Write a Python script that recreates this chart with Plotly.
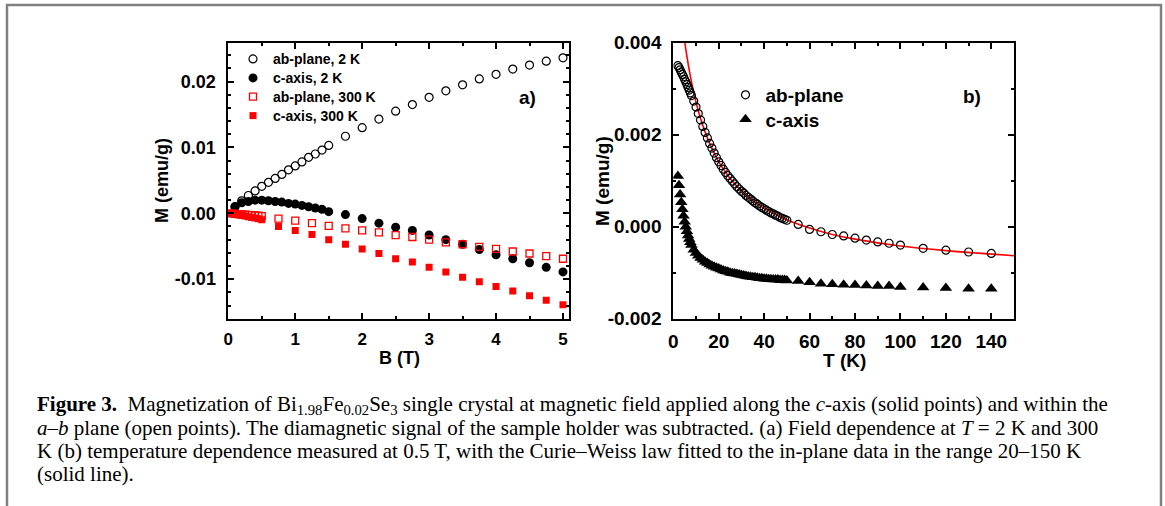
import plotly.graph_objects as go

# ---------------- Panel a) data: M vs B ----------------
B_2K = [0.1, 0.2, 0.3, 0.4, 0.5, 0.6, 0.7, 0.8, 0.9, 1.0, 1.1, 1.2, 1.3, 1.4, 1.5,
        1.75, 2.0, 2.25, 2.5, 2.75, 3.0, 3.25, 3.5, 3.75, 4.0, 4.25, 4.5, 4.75, 5.0]
M_ab_2K = [0.0010, 0.0019, 0.0027, 0.0034, 0.0041, 0.0047, 0.0053, 0.0059, 0.0066, 0.0072,
           0.0078, 0.0085, 0.0090, 0.0096, 0.0103,
           0.0117, 0.0130, 0.0143, 0.0155, 0.0165, 0.0176, 0.0186, 0.0195, 0.0204, 0.0211,
           0.0219, 0.0225, 0.0231, 0.0236]
M_c_2K = [0.0010, 0.0016, 0.0018, 0.0020, 0.0020, 0.0019, 0.0018, 0.0017, 0.0015, 0.0014,
          0.0012, 0.0010, 0.0008, 0.0006, 0.00025,
          -0.0002, -0.0008, -0.0015, -0.0021, -0.0026, -0.0033, -0.0040, -0.0047, -0.0055,
          -0.0063, -0.0069, -0.0075, -0.0082, -0.0089]

B_300K = [0.05, 0.1, 0.15, 0.2, 0.25, 0.3, 0.35, 0.4, 0.45, 0.5,
          0.75, 1.0, 1.25, 1.5, 1.75, 2.0, 2.25, 2.5, 2.75, 3.0, 3.25, 3.5, 3.75, 4.0,
          4.25, 4.5, 4.75, 5.0]
M_ab_300K = [0.0000, -0.0001, -0.00012, -0.00016, -0.0002, -0.00024, -0.00028, -0.00033,
             -0.00037, -0.00042,
             -0.0008, -0.0011, -0.0015, -0.0019, -0.0023, -0.0026, -0.0029, -0.0033, -0.0036,
             -0.0040, -0.0044, -0.0047, -0.0051, -0.0054, -0.0058, -0.0061, -0.0065, -0.0069]
M_c_300K = [-0.00002, -0.00012, -0.00022, -0.00032, -0.00042, -0.00052, -0.00062, -0.00072,
            -0.00083, -0.00098,
            -0.0020, -0.0026, -0.0032, -0.0040, -0.0047, -0.0054, -0.0061, -0.0069, -0.0074,
            -0.0082, -0.0089, -0.0097, -0.0104, -0.0111, -0.0118, -0.0125, -0.0132, -0.0139]

# ---------------- Panel b) data: M vs T ----------------
T_vals = [2, 2.5, 3, 3.5, 4, 4.5, 5, 5.5, 6, 6.5, 7, 7.5, 8,
          9, 10, 11, 12, 13, 14, 15, 16, 17, 18, 19, 20, 21, 22, 23, 24, 25, 26, 27, 28, 29, 30,
          31, 32, 33, 34, 35, 36, 37, 38, 39, 40, 41, 42, 43, 44, 45, 46, 47, 48, 49, 50,
          55, 60, 65, 70, 75, 80, 85, 90, 95, 100, 110, 120, 130, 140]
M_ab_T = [0.00350, 0.00346, 0.00341, 0.00336, 0.00331, 0.00326, 0.00320, 0.00315, 0.00309,
          0.00303, 0.00297, 0.00291, 0.00285,
          0.00273, 0.00260, 0.00246, 0.00232, 0.00218, 0.00205, 0.00193, 0.00181, 0.00171,
          0.00160, 0.00150, 0.00141, 0.00133, 0.00125, 0.00118, 0.00111, 0.00105, 0.00099,
          0.00093, 0.00087, 0.00082, 0.00077, 0.00073, 0.00068, 0.00064, 0.00060, 0.00056,
          0.00052, 0.00049, 0.00045, 0.00042, 0.00039, 0.00036, 0.00033, 0.00030, 0.00028,
          0.00025, 0.00023, 0.00020, 0.00018, 0.00016, 0.00014,
          0.00005, -0.00006, -0.00011, -0.00017, -0.00020, -0.00025, -0.00029, -0.00033,
          -0.00036, -0.00040, -0.00047, -0.00051, -0.00055, -0.00058]
M_c_T = [0.00110, 0.00090, 0.00070, 0.00053, 0.00038, 0.00024, 0.00011, 0.00000, -0.00010,
         -0.00019, -0.00027, -0.00034, -0.00040,
         -0.00050, -0.00057, -0.00063, -0.00068, -0.00072, -0.00076, -0.00079, -0.00082,
         -0.00085, -0.00087, -0.00089, -0.00091, -0.00093, -0.00095, -0.00097, -0.00098,
         -0.00100, -0.00101, -0.00102, -0.00103, -0.00104, -0.00105, -0.00106, -0.00107,
         -0.00108, -0.00109, -0.00110, -0.00110, -0.00111, -0.00112, -0.00112, -0.00113,
         -0.00113, -0.00114, -0.00114, -0.00115, -0.00115, -0.00115, -0.00116, -0.00116,
         -0.00116, -0.00117,
         -0.00118, -0.00121, -0.00124, -0.00125, -0.00126, -0.00127, -0.00128, -0.00129,
         -0.00129, -0.00131, -0.00132, -0.00133, -0.00135, -0.00135]

# Curie-Weiss fit curve
T_fit = [4.8, 5.5, 6, 7, 8, 9, 10, 12, 14, 16, 18, 20, 25, 30, 35, 40, 50, 60, 70, 80, 100, 120, 150]
M_fit = [0.00411, 0.00386, 0.00370, 0.00341, 0.00315, 0.00292, 0.00271, 0.00235, 0.00206,
         0.00181, 0.00160, 0.00141, 0.00105, 0.00078, 0.00056, 0.00040, 0.00015, -0.00003,
         -0.00017, -0.00027, -0.00042, -0.00052, -0.00063]

# tick labels
xa_ticks = [0, 1, 2, 3, 4, 5]
ya_ticks = [-0.01, 0.0, 0.01, 0.02]
ya_text = ["-0.01", "0.00", "0.01", "0.02"]
xb_ticks = [0, 20, 40, 60, 80, 100, 120, 140]
yb_ticks = [-0.002, 0.0, 0.002, 0.004]
yb_text = ["-0.002", "0.000", "0.002", "0.004"]

W, H = 1165, 506
SANS = "Liberation Sans, Arial, sans-serif"
SERIF = "Liberation Serif, Times New Roman, serif"
RED = "#ff0000"


def px(x):
    return x / W


def py(y):
    return 1 - y / H


fig = go.Figure()

# panel a
fig.add_trace(go.Scatter(x=B_2K, y=M_ab_2K, mode="markers", name="ab-plane, 2 K",
                         marker=dict(symbol="circle-open", size=8, color="black", line=dict(width=1.2)),
                         xaxis="x", yaxis="y", legend="legend"))
fig.add_trace(go.Scatter(x=B_2K, y=M_c_2K, mode="markers", name="c-axis, 2 K",
                         marker=dict(symbol="circle", size=9, color="black"),
                         xaxis="x", yaxis="y", legend="legend2"))
fig.add_trace(go.Scatter(x=B_300K, y=M_ab_300K, mode="markers", name="ab-plane, 300 K",
                         marker=dict(symbol="square-open", size=7, color=RED, line=dict(width=1.3)),
                         xaxis="x", yaxis="y", legend="legend3"))
fig.add_trace(go.Scatter(x=B_300K, y=M_c_300K, mode="markers", name="c-axis, 300 K",
                         marker=dict(symbol="square", size=7, color=RED),
                         xaxis="x", yaxis="y", legend="legend4"))

# panel b
fig.add_trace(go.Scatter(x=T_fit, y=M_fit, mode="lines", line=dict(color=RED, width=1.6, shape="spline"),
                         showlegend=False, xaxis="x2", yaxis="y2"))
fig.add_trace(go.Scatter(x=T_vals, y=M_ab_T, mode="markers", name="ab-plane",
                         marker=dict(symbol="circle-open", size=8, color="black", line=dict(width=1.2)),
                         xaxis="x2", yaxis="y2", legend="legend5"))
fig.add_trace(go.Scatter(x=T_vals, y=M_c_T, mode="markers", name="c-axis",
                         marker=dict(symbol="triangle-up", size=11, color="black"),
                         xaxis="x2", yaxis="y2", legend="legend6"))

axis_common = dict(showline=True, linecolor="black", linewidth=2, mirror="allticks",
                   ticks="inside", ticklen=6, tickwidth=1.5, tickcolor="black",
                   showgrid=False, zeroline=False, automargin=False)

fig.update_layout(
    width=W, height=H, autosize=False,
    margin=dict(l=0, r=0, t=0, b=0, pad=0, autoexpand=False),
    paper_bgcolor="white", plot_bgcolor="white",
    xaxis=dict(domain=[px(227.5), px(569)], range=[-0.012, 5.09], anchor="y",
               tickmode="array", tickvals=xa_ticks,
               minor=dict(ticks="inside", ticklen=3, tickmode="linear", tick0=0, dtick=0.5, tickcolor="black"),
               tickfont=dict(family=SANS, size=17, color="black", weight="bold"),
               ticklabelstandoff=4, **axis_common),
    yaxis=dict(domain=[py(318.7), py(42.7)], range=[-0.016, 0.0259], anchor="x",
               tickmode="array", tickvals=ya_ticks, ticktext=ya_text,
               minor=dict(ticks="inside", ticklen=3, tickmode="linear", tick0=0, dtick=0.002, tickcolor="black"),
               tickfont=dict(family=SANS, size=18, color="black", weight="bold"),
               ticklabelstandoff=6, **axis_common),
    xaxis2=dict(domain=[px(673.3), px(1014)], range=[0, 150], anchor="y2",
                tickmode="array", tickvals=xb_ticks,
                minor=dict(ticks="inside", ticklen=3, tickmode="linear", tick0=0, dtick=10, tickcolor="black"),
                tickfont=dict(family=SANS, size=19, color="black", weight="bold"),
                ticklabelstandoff=4, **axis_common),
    yaxis2=dict(domain=[py(318.7), py(42.7)], range=[-0.002, 0.004], anchor="x2",
                tickmode="array", tickvals=yb_ticks, ticktext=yb_text,
                minor=dict(ticks="inside", ticklen=3, tickmode="linear", tick0=0, dtick=0.001, tickcolor="black"),
                tickfont=dict(family=SANS, size=19, color="black", weight="bold"),
                ticklabelstandoff=6, **axis_common),
)

leg_a_font = dict(family=SANS, size=14, color="black", weight="bold")
leg_b_font = dict(family=SANS, size=19, color="black", weight="bold")
leg_common = dict(xanchor="left", yanchor="middle", bgcolor="rgba(0,0,0,0)", borderwidth=0,
                  itemwidth=30, tracegroupgap=0)
legend_pos = {
    "legend": (233.0, 59.3, leg_a_font),
    "legend2": (233.0, 78.3, leg_a_font),
    "legend3": (233.0, 97.0, leg_a_font),
    "legend4": (233.0, 116.0, leg_a_font),
    "legend5": (725.5, 95.0, leg_b_font),
    "legend6": (725.5, 119.3, leg_b_font),
}
for key, (lx, ly, f) in legend_pos.items():
    fig.update_layout({key: dict(x=px(lx), y=py(ly), font=f, **leg_common)})

ann = []
def add_text(text, x, y, size, family=SANS, bold=True, angle=0, xanchor="center"):
    ann.append(dict(text=text, x=px(x), y=py(y), xref="paper", yref="paper", showarrow=False,
                    xanchor=xanchor, yanchor="middle", textangle=angle,
                    font=dict(family=family, size=size, color="black", weight="bold" if bold else "normal")))

add_text("a)", 527, 97, 19)
add_text("b)", 972, 96, 19)
add_text("M (emu/g)", 162, 181, 18, angle=-90)
add_text("B (T)", 399, 358, 18)
add_text("M (emu/g)", 603, 181, 19, angle=-90)
add_text("T (K)", 844, 360, 19)

cap = [
    "<b>Figure 3.</b>  Magnetization of Bi<sub>1.98</sub>Fe<sub>0.02</sub>Se<sub>3</sub> single crystal at magnetic field applied along the <i>c</i>-axis (solid points) and within the",
    "<i>a</i>–<i>b</i> plane (open points). The diamagnetic signal of the sample holder was subtracted. (a) Field dependence at <i>T</i> = 2 K and 300",
    "K (b) temperature dependence measured at 0.5 T, with the Curie–Weiss law fitted to the in-plane data in the range 20–150 K",
    "(solid line).",
]
for i, line in enumerate(cap):
    add_text(line, 35, 405 + 23 * i, 21, family=SERIF, bold=False, xanchor="left")

fig.update_layout(annotations=ann)

fig.add_shape(type="rect", xref="paper", yref="paper",
              x0=px(7), x1=px(1161), y0=-0.1, y1=py(5),
              line=dict(color="#808080", width=2.5), fillcolor="rgba(0,0,0,0)", layer="below")

fig.write_html("out.html", config={"displayModeBar": False},
               post_script="document.body.style.margin='0px';document.body.style.overflow='hidden';")
